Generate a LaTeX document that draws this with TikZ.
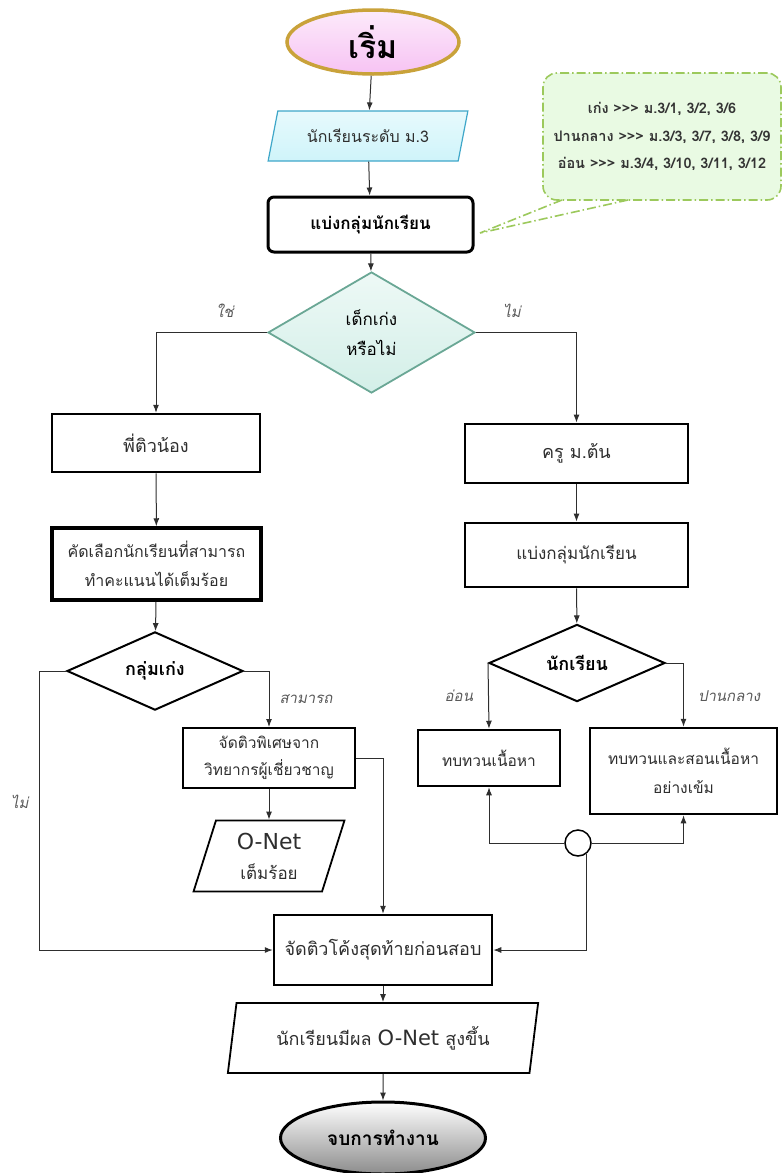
\documentclass[tikz,border=0pt]{standalone}
\usepackage{fontspec}
\setmainfont[Script=Thai,Ligatures=TeXOff]{Loma}
\newfontfamily\thaiit[Script=Thai,FakeSlant=0.2]{Loma}
\newfontfamily\netfont{DejaVu Sans}
\usetikzlibrary{shapes.geometric,arrows.meta}

\definecolor{pinkfill}{HTML}{F7C3F3}
\definecolor{goldline}{HTML}{C9A23A}
\definecolor{cyanfill}{HTML}{CFF4FA}
\definecolor{cyanline}{HTML}{3FA7C9}
\definecolor{mintfill}{HTML}{D3EFE8}
\definecolor{mintline}{HTML}{6AA795}
\definecolor{notefill}{HTML}{E9FAE3}
\definecolor{noteline}{HTML}{9CC95C}
\definecolor{wire}{HTML}{2E2E2E}

\begin{document}
\begin{tikzpicture}[x=1pt, y=-1pt,
  every node/.style={text=black!82, font=\fontsize{16}{27}\selectfont, align=center},
  procbox/.style={draw=black, rectangle, line width=2.5pt, inner sep=2pt},
  decide/.style={draw=black, diamond, line width=2pt, inner sep=0pt},
  iobox/.style={draw=black, trapezium, trapezium stretches=true, line width=1.8pt, inner sep=2pt},
  flow/.style={draw=wire, line width=1pt, -{Latex[length=8pt,width=6pt]}},
  tag/.style={font=\thaiit\fontsize{15}{18}\selectfont, text=black!65, inner sep=2pt}
]
  \useasboundingbox (0,0) rectangle (782,1173);

  % top of the chart
  \node[ellipse, draw=goldline, line width=3.5pt, top color=pinkfill!35, bottom color=pinkfill,
        minimum width=172pt, minimum height=64pt, text=black,
        font=\bfseries\fontsize{32}{34}\selectfont] (start) at (373,42) {เริ่ม};

  \node[iobox, draw=cyanline, line width=1.2pt, top color=cyanfill!50, bottom color=cyanfill,
        trapezium left angle=69, trapezium right angle=111,
        minimum width=200pt, minimum height=50pt] (pupils) at (368,136) {นักเรียนระดับ ม.3};

  \node[procbox, rounded corners=6pt, line width=3pt, minimum width=205pt, minimum height=55pt,
        font=\bfseries\fontsize{17}{27}\selectfont, text=black] (grouping) at (370.5,224.5) {แบ่งกลุ่มนักเรียน};

  \node[decide, draw=mintline, line width=1.8pt, top color=mintfill!40, bottom color=mintfill,
        minimum width=207pt, minimum height=121pt,
        font=\fontsize{17}{30}\selectfont, text=black] (smart) at (371.5,332.5) {เด็กเก่ง\\หรือไม่};

  % note beside the first grouping
  \node[rectangle, rounded corners=14pt, fill=notefill, draw=noteline, line width=1.6pt,
        dash pattern=on 9pt off 3pt on 1.5pt off 3pt,
        minimum width=238pt, minimum height=127pt,
        font=\bfseries\fontsize{14.5}{27.5}\selectfont, text=black!80] (note) at (662,136.5)
        {เก่ง >>> ม.3/1, 3/2, 3/6\\ปานกลาง >>> ม.3/3, 3/7, 3/8, 3/9\\อ่อน >>> ม.3/4, 3/10, 3/11, 3/12};
  \coordinate (tip) at (480,233);
  \coordinate (tailL) at (562,200);
  \coordinate (tailR) at (628,200);
  \draw[noteline, line width=1.6pt, dash pattern=on 9pt off 3pt on 1.5pt off 3pt]
    (tailL) -- (tip) -- (tailR);

  % left branch
  \node[procbox, minimum width=208pt, minimum height=58pt,
        font=\fontsize{18}{27}\selectfont] (tutor) at (156,443) {พี่ติวน้อง};
  \node[procbox, line width=3.5pt, minimum width=209pt, minimum height=72pt,
        font=\fontsize{16}{29}\selectfont] (select) at (156.5,564) {คัดเลือกนักเรียนที่สามารถ\\ทำคะแนนได้เต็มร้อย};
  \node[decide, minimum width=176pt, minimum height=48pt,
        font=\bfseries\fontsize{18}{27}\selectfont, text=black] (topgroup) at (155,671) {กลุ่มเก่ง};
  \node[procbox, line width=2pt, minimum width=172pt, minimum height=60pt,
        font=\fontsize{15.5}{27}\selectfont] (expert) at (269,758) {จัดติวพิเศษจาก\\วิทยากรผู้เชี่ยวชาญ};
  \node[iobox, trapezium left angle=74, trapezium right angle=106,
        minimum width=152pt, minimum height=71pt,
        font=\fontsize{17}{30}\selectfont] (fullmark) at (269,856)
        {{\netfont\fontsize{22}{26}\selectfont O-Net}\\เต็มร้อย};

  % right branch
  \node[procbox, line width=2.8pt, minimum width=223pt, minimum height=59pt,
        font=\fontsize{18}{27}\selectfont] (teacher) at (576.5,453.5) {ครู ม.ต้น};
  \node[procbox, line width=2.8pt, minimum width=223pt, minimum height=64pt,
        font=\fontsize{17}{27}\selectfont] (regroup) at (576.5,555) {แบ่งกลุ่มนักเรียน};
  \node[decide, minimum width=176pt, minimum height=57pt,
        font=\bfseries\fontsize{18}{27}\selectfont, text=black] (level) at (577,663) {นักเรียน};
  \node[procbox, minimum width=142pt, minimum height=56pt,
        font=\fontsize{15.5}{27}\selectfont] (review) at (489,758) {ทบทวนเนื้อหา};
  \node[procbox, minimum width=187pt, minimum height=86pt,
        font=\fontsize{15.5}{29}\selectfont] (intense) at (683.5,771) {ทบทวนและสอนเนื้อหา\\อย่างเข้ม};
  \node[circle, draw=black, line width=1.5pt, minimum size=26pt, inner sep=0pt] (join) at (578,843) {};

  % bottom of the chart
  \node[procbox, minimum width=218pt, minimum height=70pt,
        font=\fontsize{18}{27}\selectfont] (final) at (383,950) {จัดติวโค้งสุดท้ายก่อนสอบ};
  \node[iobox, trapezium left angle=77, trapezium right angle=103,
        minimum width=311pt, minimum height=70pt,
        font=\fontsize{18}{27}\selectfont] (result) at (383,1038)
        {นักเรียนมีผล {\netfont\fontsize{21}{26}\selectfont O-Net} สูงขึ้น};
  \node[ellipse, draw=black, line width=3pt, top color=white, bottom color=black!45,
        minimum width=205pt, minimum height=72pt, text=black,
        font=\bfseries\fontsize{19}{27}\selectfont] (finish) at (383,1138) {จบการทำงาน};

  % connectors
  \draw[flow] (start) -- (pupils);
  \draw[flow] (pupils) -- (grouping);
  \draw[flow] (grouping) -- (smart);
  \draw[flow] (smart.west) -| (tutor.north) node[tag, pos=0.19, above=12pt] {ใช่};
  \draw[flow] (smart.east) -| (teacher.north) node[tag, pos=0.18, above=12pt] {ไม่};
  \draw[flow] (tutor) -- (select);
  \draw[flow] (select) -- (topgroup);
  \draw[flow] (topgroup.east) -| (expert.north) node[tag, pos=0.75, right=8pt] {สามารถ};
  \draw[flow] (topgroup.west) -- ++(-27,0) |- node[tag, pos=0.235, left=8pt] {ไม่} (final.west);
  \draw[flow] (expert) -- (fullmark);
  \draw[flow] (expert.east) -| (final.north);
  \draw[flow] (teacher) -- (regroup);
  \draw[flow] (regroup) -- (level);
  \draw[flow] (level.west) -- (review.north) node[tag, midway, left=13pt] {อ่อน};
  \draw[flow] (level.east) -| (intense.north) node[tag, pos=0.76, right=12pt] {ปานกลาง};
  \draw[flow] (join.west) -| (review.south);
  \draw[flow] (join.east) -| (intense.south);
  \draw[flow] (join.-50) |- (final.east);
  \draw[flow] (final) -- (result);
  \draw[flow] (result) -- (finish);
\end{tikzpicture}
\end{document}
